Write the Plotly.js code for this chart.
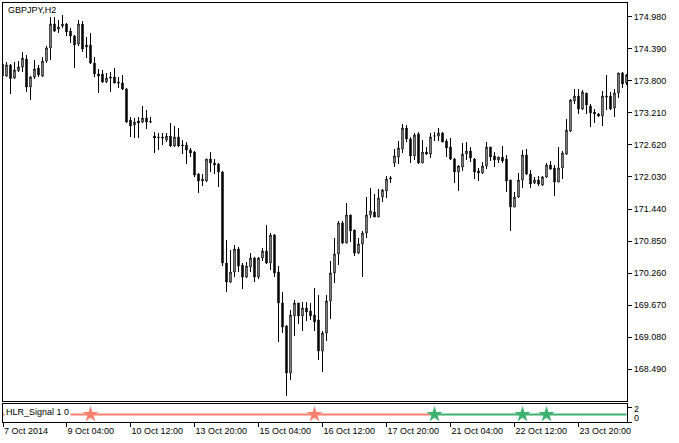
<!DOCTYPE html>
<html>
<head>
<meta charset="utf-8">
<script src="https://cdn.plot.ly/plotly-3.0.1.min.js"></script>
<style>
html,body{margin:0;padding:0;background:#fff;overflow:hidden;}
#chart{width:679px;height:443px;}
</style>
</head>
<body>
<div id="chart"></div>
<script>
// GBPJPY H2 bars (index 0 = 7 Oct 2014 20:00)
var opens = [174.109,173.888,174.091,173.851,173.986,174.054,174.201,173.686,173.870,174.035,
173.888,174.164,174.404,174.845,174.753,174.808,174.845,174.716,174.624,174.477,
174.845,174.422,174.459,174.127,173.925,173.925,173.778,173.870,173.870,173.778,
173.759,173.649,173.078,172.986,173.060,173.041,173.115,173.050,172.784,172.765,
172.765,172.710,172.784,172.600,172.765,172.600,172.618,172.526,172.489,172.084,
171.956,171.956,172.360,172.287,172.268,172.121,170.446,170.096,170.280,170.704,
170.409,170.188,170.372,170.538,170.188,170.538,170.667,170.446,170.962,170.280,
169.710,169.287,168.421,169.471,169.710,169.471,169.618,169.563,169.489,169.397,
168.826,169.158,169.747,170.262,170.612,171.183,170.814,171.330,171.054,170.630,
170.796,170.999,171.330,171.385,171.293,171.661,171.772,171.992,172.287,172.397,
172.545,172.931,172.729,172.416,172.821,172.287,172.489,172.452,172.784,172.784,
172.839,172.692,172.581,172.360,172.121,172.213,172.452,172.508,172.360,172.140,
172.103,172.232,172.581,172.416,172.342,172.397,172.360,171.974,171.477,171.661,
171.974,172.434,172.084,171.919,171.974,171.882,172.029,172.250,172.195,171.937,
172.195,172.452,172.876,173.428,173.520,173.281,173.575,173.336,173.226,173.189,
173.152,173.520,173.520,173.299,173.575,173.943,173.759];
var highs = [174.127,174.146,174.109,174.146,174.164,174.330,174.275,173.888,174.183,174.091,
174.238,174.440,174.974,174.974,174.919,175.011,174.864,174.772,174.643,174.919,
174.900,174.606,174.680,174.238,174.017,173.999,173.943,173.962,174.035,173.870,
173.907,173.667,173.133,173.115,173.133,173.336,173.262,173.133,172.857,172.839,
172.839,172.839,173.023,172.968,172.931,172.710,172.673,172.563,172.508,172.103,
172.084,172.360,172.489,172.360,172.287,172.140,170.870,170.685,170.778,170.741,
170.446,170.465,170.630,170.557,170.557,170.722,171.146,170.999,170.980,170.391,
169.913,169.305,169.581,169.765,169.710,169.729,169.729,169.710,169.986,169.857,
169.195,169.857,170.483,170.906,171.220,171.220,171.551,171.330,171.054,170.906,
171.035,171.661,171.827,171.716,171.808,171.808,172.048,172.048,172.545,172.692,
173.004,172.986,172.765,172.839,172.857,172.710,172.581,172.839,172.857,172.931,
172.857,172.729,172.747,172.379,172.250,172.655,172.673,172.581,172.379,172.195,
172.305,172.673,172.581,172.489,172.397,172.600,172.434,171.974,171.753,172.103,
172.526,172.545,172.158,172.029,172.048,172.048,172.287,172.324,172.250,172.581,
172.508,173.097,173.465,173.649,173.649,173.630,173.575,173.373,173.281,173.207,
173.612,173.907,173.594,173.649,173.943,173.962,173.925];
var lows = [173.870,173.870,173.557,173.833,173.962,173.962,173.594,173.447,173.833,173.870,
173.870,174.127,174.183,174.698,174.680,174.772,174.624,174.496,174.035,174.440,
174.330,174.219,174.109,173.870,173.575,173.759,173.759,173.594,173.759,173.667,
173.630,173.023,172.765,172.747,172.747,173.023,172.913,173.023,172.471,172.526,
172.618,172.673,172.581,172.581,172.581,172.452,172.268,172.397,172.029,171.735,
171.864,171.937,172.121,172.084,171.845,170.391,169.913,170.078,170.188,170.280,
169.968,170.170,170.280,170.096,170.152,170.483,170.428,170.317,170.188,168.992,
169.158,167.998,168.293,169.103,169.324,169.195,169.379,169.397,169.195,168.661,
168.440,169.011,169.415,170.078,170.409,170.796,170.814,170.833,170.575,170.612,
170.188,170.906,171.275,171.293,171.293,171.569,171.643,171.919,172.213,172.268,
172.471,172.673,172.287,172.342,172.268,172.287,172.434,172.379,172.692,172.692,
172.673,172.397,172.342,171.919,171.772,172.140,172.342,172.305,171.992,171.956,
172.084,172.176,172.324,172.213,172.287,172.287,171.753,171.035,171.477,171.643,
171.827,172.066,171.827,171.900,171.864,171.864,172.011,172.158,171.680,171.937,
171.992,172.434,172.857,173.373,173.189,173.262,173.189,172.949,173.023,173.133,
172.968,173.262,173.262,173.133,173.483,173.667,173.722];
var closes = [173.888,174.091,173.842,173.999,174.054,174.219,173.686,173.870,174.017,173.907,
174.164,174.404,174.845,174.716,174.790,174.845,174.698,174.624,174.459,174.845,
174.385,174.459,174.127,173.925,173.888,173.778,173.851,173.851,173.759,173.759,
173.649,173.041,172.968,173.041,173.023,173.115,173.041,173.041,172.747,172.756,
172.747,172.784,172.600,172.765,172.600,172.618,172.526,172.471,172.066,171.956,
171.992,172.360,172.287,172.250,172.121,170.446,170.096,170.280,170.704,170.391,
170.188,170.391,170.538,170.188,170.538,170.667,170.446,170.962,170.262,169.710,
169.268,168.421,169.489,169.710,169.471,169.618,169.545,169.471,169.360,168.826,
169.158,169.747,170.262,170.612,171.183,170.814,171.330,171.035,170.630,170.796,
170.999,171.330,171.404,171.293,171.643,171.790,171.992,172.011,172.416,172.563,
172.931,172.729,172.416,172.802,172.287,172.489,172.452,172.765,172.784,172.839,
172.673,172.563,172.360,172.121,172.232,172.452,172.508,172.379,172.121,172.103,
172.232,172.581,172.397,172.342,172.397,172.324,171.956,171.477,171.661,171.974,
172.434,172.084,171.900,171.974,171.900,172.029,172.250,172.176,171.937,172.195,
172.471,172.894,173.447,173.520,173.281,173.594,173.354,173.207,173.189,173.152,
173.520,173.502,173.281,173.575,173.943,173.741,173.907];

// time axis labels (bar index -> label)
var timeTickBars = [0,16,32,48,64,80,96,112,128,144];
var timeTickLabels = ["7 Oct 2014","9 Oct 04:00","10 Oct 12:00","13 Oct 20:00","15 Oct 04:00",
  "16 Oct 12:00","17 Oct 20:00","21 Oct 04:00","22 Oct 12:00","23 Oct 20:00"];
// price axis labels
var priceTicks = [168.490,169.080,169.670,170.260,170.850,171.440,172.030,172.620,173.210,173.800,174.390,174.980];

// HLR_Signal indicator
var hlrLevel = 1;
var hlrSellBars = [22, 78];
var hlrBuyBars = [108, 130, 136];
var hlrSwitchBar = 107;   // trend line turns from sell colour to buy colour here

var barIdx = opens.map(function(_, i){ return i; });
var sellLineX = barIdx.filter(function(i){ return i <= hlrSwitchBar; });
var buyLineX = barIdx.filter(function(i){ return i >= hlrSwitchBar; });
function level(arr){ return arr.map(function(){ return hlrLevel; }); }

var SALMON = '#FA8072', GREEN = '#3CB371';
var FONT = 'Liberation Sans, Arial, sans-serif';

var xr = [0.125, 156.125];
var tickPos = timeTickBars.map(function(b){ return Math.max(b, xr[0] + 0.01); });

var traces = [
  {
    type:'candlestick', x: barIdx, open: opens, high: highs, low: lows, close: closes,
    xaxis:'x', yaxis:'y', whiskerwidth:0, hoverinfo:'skip',
    increasing:{line:{color:'#000', width:1}, fillcolor:'#fff'},
    decreasing:{line:{color:'#000', width:1}, fillcolor:'#000'}
  },
  { type:'scatter', mode:'lines', x: sellLineX, y: level(sellLineX), xaxis:'x2', yaxis:'y2',
    line:{color:SALMON, width:2}, hoverinfo:'skip' },
  { type:'scatter', mode:'lines', x: buyLineX, y: level(buyLineX), xaxis:'x2', yaxis:'y2',
    line:{color:GREEN, width:2}, hoverinfo:'skip' },
  { type:'scatter', mode:'markers', x: hlrSellBars, y: level(hlrSellBars), xaxis:'x2', yaxis:'y2',
    marker:{symbol:'star', size:12, color:SALMON, line:{width:0}}, hoverinfo:'skip', cliponaxis:false },
  { type:'scatter', mode:'markers', x: hlrBuyBars, y: level(hlrBuyBars), xaxis:'x2', yaxis:'y2',
    marker:{symbol:'star', size:12, color:GREEN, line:{width:0}}, hoverinfo:'skip', cliponaxis:false }
];

var H = 419; // plot area height in px (rows 3..422)
var layout = {
  width:679, height:443,
  margin:{l:3, r:52, t:3, b:21, pad:0},
  paper_bgcolor:'#fff', plot_bgcolor:'#fff',
  showlegend:false, hovermode:false, boxgap:0.5,
  font:{family:FONT, size:9, color:'#000'},
  xaxis:{domain:[0,1], anchor:'y', range:xr, showline:true, mirror:true, linecolor:'#000', linewidth:1,
    showgrid:false, zeroline:false, showticklabels:false, ticks:'', rangeslider:{visible:false}, fixedrange:true},
  yaxis:{domain:[21/H,1], anchor:'x', side:'right', range:[167.906,175.232],
    tickvals:priceTicks, ticktext:priceTicks.map(function(v){return v.toFixed(3);}),
    ticks:'outside', ticklen:4, tickwidth:1, tickcolor:'#000',
    showline:true, mirror:true, linecolor:'#000', linewidth:1, showgrid:false, zeroline:false,
    tickfont:{family:FONT, size:9, color:'#000'}, fixedrange:true},
  xaxis2:{domain:[0,1], anchor:'y2', range:xr, tickvals:tickPos, ticktext:timeTickLabels,
    ticks:'outside', ticklen:4, tickwidth:1, tickcolor:'#000', ticklabelposition:'outside right',
    showline:true, mirror:true, linecolor:'#000', linewidth:1, showgrid:false, zeroline:false,
    tickfont:{family:FONT, size:9, color:'#000'}, rangeslider:{visible:false}, fixedrange:true},
  yaxis2:{domain:[0,18/H], anchor:'x2', side:'right', range:[0,2.4],
    tickvals:[0,2], ticks:'outside', ticklen:4, tickwidth:1, tickcolor:'#000', showticklabels:false,
    showline:true, mirror:true, linecolor:'#000', linewidth:1, showgrid:false, zeroline:false, fixedrange:true},
  annotations:[
    {text:'GBPJPY,H2', xref:'paper', yref:'paper', x:0.0048, y:(422-9.5)/H, xanchor:'left', yanchor:'middle',
      showarrow:false, font:{family:FONT, size:9, color:'#000'}},
    {text:'HLR_Signal 1 0', xref:'paper', yref:'y2', x:0.0016, y:1.33, xanchor:'left', yanchor:'middle',
      showarrow:false, bgcolor:'#fff', borderpad:1, font:{family:FONT, size:9, color:'#000'}},
    {text:'2', xref:'paper', yref:'y2', x:1, xshift:5, y:1.73, xanchor:'left', yanchor:'middle',
      showarrow:false, font:{family:FONT, size:9, color:'#000'}},
    {text:'0', xref:'paper', yref:'y2', x:1, xshift:5, y:0.53, xanchor:'left', yanchor:'middle',
      showarrow:false, font:{family:FONT, size:9, color:'#000'}}
  ]
};

Plotly.newPlot('chart', traces, layout, {staticPlot:true, displayModeBar:false});
</script>
</body>
</html>
